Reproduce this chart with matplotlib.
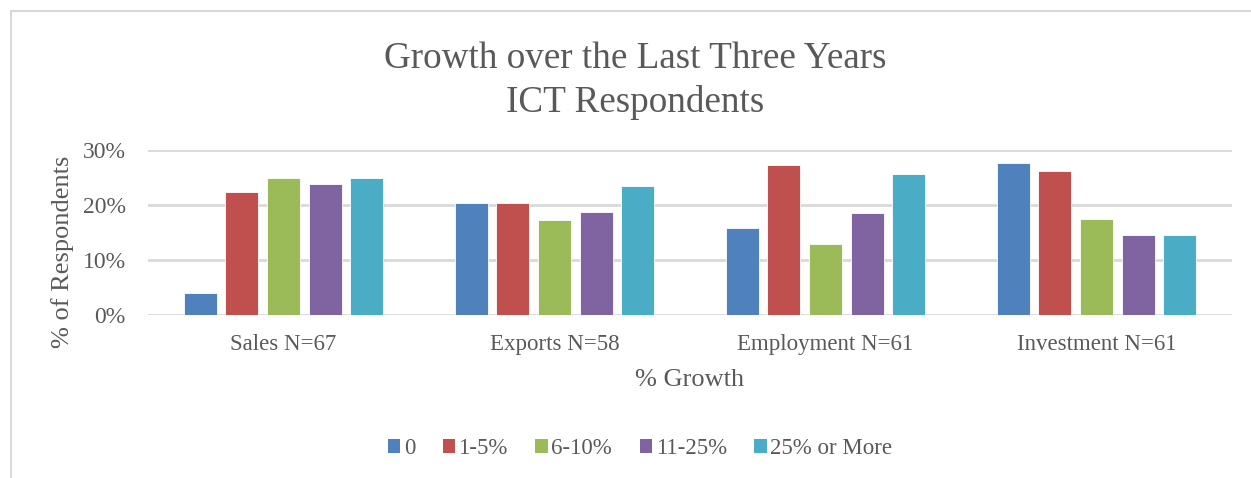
import matplotlib
matplotlib.use("Agg")
import matplotlib.pyplot as plt
from matplotlib.patches import Rectangle, Patch
from matplotlib.ticker import FuncFormatter
import numpy as np

categories = ["Sales N=67", "Exports N=58", "Employment N=61", "Investment N=61"]
series_names = ["0", "1-5%", "6-10%", "11-25%", "25% or More"]
values = {
    "0":           [4.0, 20.4, 15.8, 27.6],
    "1-5%":        [22.4, 20.4, 27.2, 26.1],
    "6-10%":       [25.0, 17.2, 12.9, 17.4],
    "11-25%":      [23.8, 18.8, 18.6, 14.5],
    "25% or More": [25.0, 23.5, 25.7, 14.5],
}
colors = ["#4F81BD", "#C0504D", "#9BBB59", "#8064A2", "#4BACC6"]
yticks = [0, 10, 20, 30]

W, H = 1251, 478
plt.rcParams["font.family"] = ["Liberation Serif", "DejaVu Serif"]
text_color = "#595959"
grid_color = "#D9D9D9"

fig = plt.figure(figsize=(W / 100, H / 100), dpi=100)

# chart frame (clipped on the right and bottom)
fig.patches.append(Rectangle((11 / W, -0.1), 1.2, (H - 11) / H + 0.1,
                             transform=fig.transFigure, fill=False,
                             edgecolor=grid_color, linewidth=1.5))

ax = fig.add_axes([148 / W, 1 - 315 / H, (1232 - 148) / W, (315 - 150) / H])
x = np.arange(len(categories))
slot = 0.154
bar_w = 0.122
for i, (name, c) in enumerate(zip(series_names, colors)):
    offs = (i - 2) * slot
    ax.bar(x + offs, values[name], width=bar_w, color=c, edgecolor="white",
           linewidth=0.6, zorder=3, label=name)

ax.set_xlim(-0.5, len(categories) - 0.5)
ax.set_ylim(0, 30)
ax.set_yticks(yticks)
ax.yaxis.set_major_formatter(FuncFormatter(lambda v, p: f"{int(v)}%"))
ax.grid(axis="y", color=grid_color, linewidth=2, zorder=0)
ax.set_axisbelow(True)
for s in ax.spines.values():
    s.set_visible(False)
ax.set_xticks(x)
ax.set_xticklabels(categories)
ax.tick_params(axis="both", length=0, colors=text_color)
ax.tick_params(axis="x", pad=14, labelsize=16.5)
ax.tick_params(axis="y", pad=16, labelsize=17)

fig.text(63 / W, 1 - 252 / H, "% of Respondents", rotation=90, ha="center",
         va="center", fontsize=19, color=text_color)
fig.text(690 / W, 1 - 380 / H, "% Growth", ha="center", va="center",
         fontsize=19, color=text_color)
fig.text(635 / W, 1 - 59 / H, "Growth over the Last Three Years", ha="center",
         va="center", fontsize=26.7, color=text_color)
fig.text(635 / W, 1 - 102 / H, "ICT Respondents", ha="center", va="center",
         fontsize=26.7, color=text_color)

handles = [Patch(facecolor=c, edgecolor="none") for c in colors]
fig.legend(handles, series_names, loc="center", bbox_to_anchor=(640 / W, 1 - 449 / H),
           ncol=5, frameon=False, fontsize=16.5, labelcolor=text_color,
           handlelength=0.55, handleheight=0.55, handletextpad=0.15,
           columnspacing=1.2)

fig.savefig("out.png", dpi=100)
